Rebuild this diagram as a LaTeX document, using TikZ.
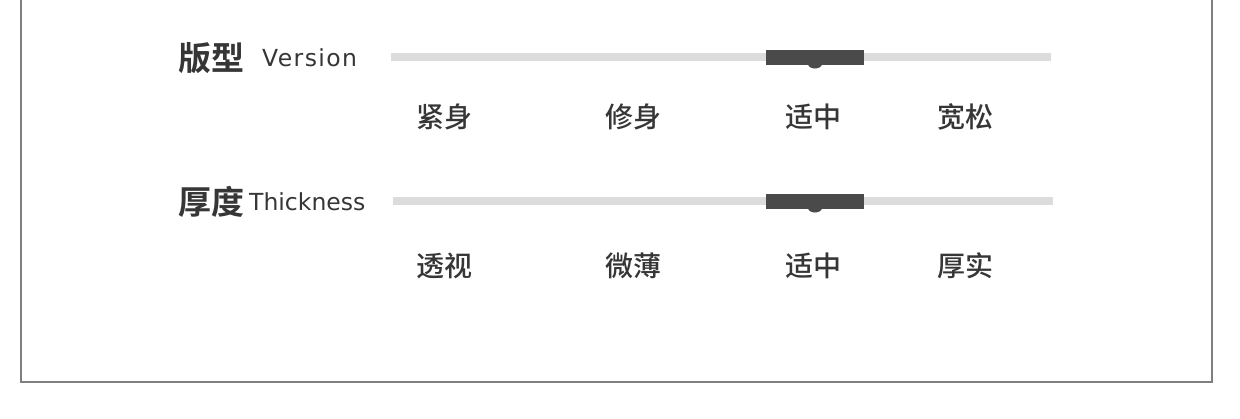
\documentclass[tikz,border=0pt]{standalone}
\usepackage{fontspec}
\newfontfamily\cjk{Noto Sans CJK SC Medium}
\newfontfamily\cjkbold{Noto Sans CJK SC Bold}
\newfontfamily\latin{DejaVu Sans}
\newfontfamily\latinwide[LetterSpace=6]{DejaVu Sans}

\definecolor{trackgray}{HTML}{DCDCDC}
\definecolor{thumbdark}{HTML}{4A4A4A}
\definecolor{framegray}{HTML}{7F7F7F}
\definecolor{labeltext}{HTML}{363636}

\begin{document}
\begin{tikzpicture}[
    x=1pt, y=-1pt,
    headlbl/.style={anchor=west, inner sep=0pt, text=labeltext,
                    font=\cjkbold\fontsize{33}{33}\selectfont},
    englbl/.style={anchor=west, inner sep=0pt, text=labeltext,
                   font=\latin\fontsize{23.5}{23.5}\selectfont},
    optlbl/.style={inner sep=0pt, text=labeltext,
                   font=\cjk\fontsize{28}{28}\selectfont},
    track/.style={line width=8pt, trackgray},
    thumb/.style={fill=thumbdark, draw=none},
]

\useasboundingbox (0,0) rectangle (1240,418);

% --- Outer frame (top runs off the picture) ---
\coordinate (ftl) at (21,-5);
\coordinate (fbl) at (21,382);
\coordinate (fbr) at (1212,382);
\coordinate (ftr) at (1212,-5);
\draw[framegray, line width=1.6pt] (ftl) -- (fbl) -- (fbr) -- (ftr);

% --- Row 1: version ---
\node[headlbl] (ver) at (178,58) {版型};
\node[englbl, font=\latinwide\fontsize{23.5}{23.5}\selectfont] (vereng) at (262,58) {Version};

\coordinate (vs) at (391,57);
\coordinate (ve) at (1051,57);
\draw[track] (vs) -- (ve);
\fill[thumb] (766,50) rectangle (864,65);
\fill[thumb] (815,64) ellipse (7 and 4.5);

\node[optlbl] (v1) at (444,117) {紧身};
\node[optlbl] (v2) at (633,117) {修身};
\node[optlbl] (v3) at (813,117) {适中};
\node[optlbl] (v4) at (965,117) {宽松};

% --- Row 2: thickness ---
\node[headlbl] (thk) at (178,202) {厚度};
\node[englbl] (thkeng) at (249,202) {Thickness};

\coordinate (ts) at (393,201);
\coordinate (te) at (1053,201);
\draw[track] (ts) -- (te);
\fill[thumb] (766,194) rectangle (864,209);
\fill[thumb] (815,208) ellipse (7 and 4.5);

\node[optlbl] (t1) at (444,266) {透视};
\node[optlbl] (t2) at (633,266) {微薄};
\node[optlbl] (t3) at (813,266) {适中};
\node[optlbl] (t4) at (965,266) {厚实};

\end{tikzpicture}
\end{document}
